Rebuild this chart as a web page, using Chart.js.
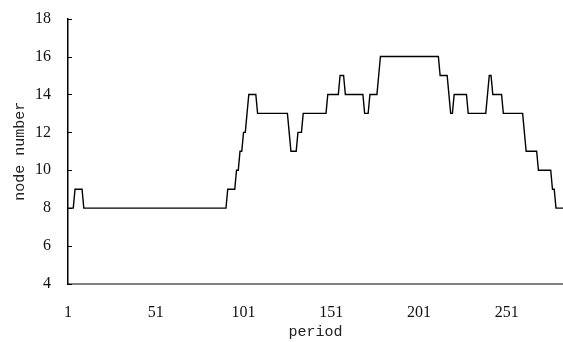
<!DOCTYPE html>
<html>
<head>
<meta charset="utf-8">
<script src="https://cdn.jsdelivr.net/npm/chart.js@4/dist/chart.umd.min.js"></script>
<style>
    html, body { margin: 0; padding: 0; background: #fff; }
    #wrap { width: 563px; height: 342px; }
</style>
</head>
<body>
<div id="wrap"><canvas id="nodeChart" width="563" height="342"></canvas></div>
<script>
// ========== DATOS ==========
// node number per period, stored as runs: level and how many periods it lasts
const nivelesNodos = [8, 9, 8, 9, 10, 11, 12, 13, 14, 13, 12, 11, 12, 13, 14, 15, 14, 13, 14, 15, 16, 15, 14, 13, 14, 13, 14, 15, 14, 13, 12, 11, 10, 9, 8];
const duracionNiveles = [4, 5, 82, 5, 2, 2, 2, 1, 5, 18, 1, 4, 3, 14, 7, 3, 11, 3, 5, 1, 34, 5, 1, 2, 8, 11, 1, 2, 6, 12, 1, 7, 8, 2, 5];
const ticksPeriodo = [1, 51, 101, 151, 201, 251];
const ticksNodos = [4, 6, 8, 10, 12, 14, 16, 18];

// expand runs into one point per period
const puntos = [];
let periodo = 1;
nivelesNodos.forEach((nivel, i) => {
    for (let k = 0; k < duracionNiveles[i]; k++) {
        puntos.push({ x: periodo, y: nivel });
        periodo++;
    }
});
const ultimoPeriodo = periodo - 1;

// inward tick marks on the left axis
const ticksInternos = {
    id: 'ticksInternos',
    afterDraw(chart) {
        const ctx = chart.ctx;
        const y = chart.scales.y;
        ctx.save();
        ctx.strokeStyle = '#000';
        ctx.lineWidth = 1;
        ticksNodos.forEach(v => {
            const py = Math.round(y.getPixelForValue(v)) + 0.5;
            ctx.beginPath();
            ctx.moveTo(y.right, py);
            ctx.lineTo(y.right + 4, py);
            ctx.stroke();
        });
        ctx.restore();
    }
};

const ctx = document.getElementById('nodeChart').getContext('2d');
const nodeChart = new Chart(ctx, {
    type: 'line',
    data: {
        datasets: [{
            data: puntos,
            borderColor: '#000',
            borderWidth: 1.4,
            pointRadius: 0,
            tension: 0,
            fill: false
        }]
    },
    options: {
        responsive: false,
        animation: false,
        devicePixelRatio: 1,
        layout: { padding: { top: 8, right: 0, left: 0, bottom: 0 } },
        plugins: {
            legend: { display: false },
            tooltip: { enabled: false }
        },
        scales: {
            x: {
                type: 'linear',
                min: 1,
                max: ultimoPeriodo,
                afterBuildTicks: scale => {
                    scale.ticks = ticksPeriodo.map(v => ({ value: v }));
                },
                afterFit: scale => { scale.height = 58; },
                grid: { display: false },
                border: { display: true, color: '#808080', width: 2 },
                ticks: {
                    padding: 11,
                    maxRotation: 0,
                    autoSkip: false,
                    color: '#111',
                    font: { family: 'Liberation Serif', size: 16 }
                },
                title: {
                    display: true,
                    text: 'period',
                    color: '#222',
                    padding: { top: 0, bottom: 1 },
                    font: { family: 'Liberation Mono', size: 15 }
                }
            },
            y: {
                min: 4,
                max: 18,
                afterBuildTicks: scale => {
                    scale.ticks = ticksNodos.map(v => ({ value: v }));
                },
                afterFit: scale => { scale.width = 68; },
                grid: { display: false },
                border: { display: true, color: '#000', width: 1.5 },
                ticks: {
                    padding: 9,
                    color: '#111',
                    font: { family: 'Liberation Serif', size: 16 }
                },
                title: {
                    display: true,
                    text: 'node number',
                    color: '#222',
                    padding: { top: 11, bottom: 0 },
                    font: { family: 'Liberation Mono', size: 15 }
                }
            }
        }
    },
    plugins: [ticksInternos]
});
</script>
</body>
</html>
